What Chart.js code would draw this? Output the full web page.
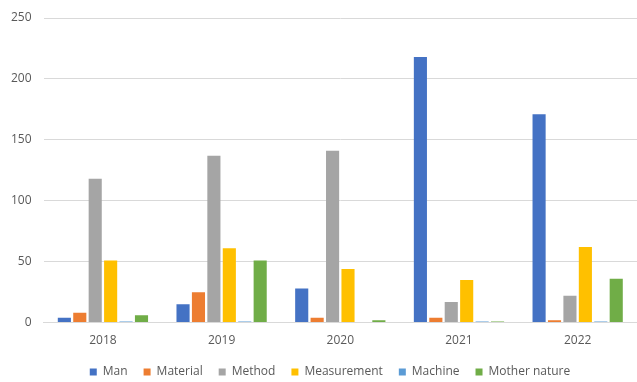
<!DOCTYPE html>
<html>
<head>
<meta charset="utf-8">
<script src="https://cdn.jsdelivr.net/npm/chart.js@4"></script>
<style>
  html, body { margin: 0; padding: 0; background: #fff; }
  #wrap { width: 637px; height: 382px; position: relative; }
</style>
</head>
<body>
<div id="wrap"><canvas id="causeChart"></canvas></div>
<script>
var years = ["2018", "2019", "2020", "2021", "2022"];
var man = [4, 15, 28, 218, 171];
var material = [8, 25, 4, 4, 2];
var method = [118, 137, 141, 17, 22];
var measurement = [51, 61, 44, 35, 62];
var machine = [1, 1, 0, 1, 1];
var motherNature = [6, 51, 2, 1, 36];

var yTicks = [0, 50, 100, 150, 200, 250];

function makeSet(label, data, color) {
    return {
        label: label,
        data: data,
        backgroundColor: color,
        borderWidth: 0,
        barPercentage: 0.85,
        categoryPercentage: 0.78
    };
}

var data = {
    labels: years,
    datasets: [
        makeSet("Man", man, "#4472C4"),
        makeSet("Material", material, "#ED7D31"),
        makeSet("Method", method, "#A5A5A5"),
        makeSet("Measurement", measurement, "#FFC000"),
        makeSet("Machine", machine, "#5B9BD5"),
        makeSet("Mother nature", motherNature, "#70AD47")
    ]
};

Chart.defaults.font.family = "'Open Sans', 'Liberation Sans', sans-serif";
Chart.defaults.font.size = 12;
Chart.defaults.color = "#595959";

// legend sits a bit right of the canvas centre in the original
var legendShift = {
    id: 'legendShift',
    afterLayout: function(chart) {
        chart.legend.left += 12;
        chart.legend.right += 12;
    }
};

var config = {
    type: 'bar',
    data: data,
    plugins: [legendShift],
    options: {
        responsive: true,
        maintainAspectRatio: false,
        animation: false,
        layout: {
            padding: { left: -1, right: 0, top: 2, bottom: -6 }
        },
        plugins: {
            legend: {
                position: 'bottom',
                labels: {
                    boxWidth: 7,
                    boxHeight: 7,
                    padding: 16,
                    color: "#595959"
                }
            },
            tooltip: { enabled: false }
        },
        scales: {
            x: {
                grid: { display: false, drawTicks: false },
                border: { color: "#d9d9d9" },
                ticks: { padding: 11 },
                // pull the legend up closer to the year labels
                afterFit: function(axis) { axis.height -= 9; }
            },
            y: {
                min: 0,
                max: 250,
                afterBuildTicks: function(axis) {
                    axis.ticks = yTicks.map(function(v) { return { value: v }; });
                },
                grid: { color: "#d9d9d9", drawTicks: false },
                border: { display: false },
                ticks: { padding: 12, font: { lineHeight: 1 } }
            }
        }
    }
};

new Chart(document.getElementById('causeChart'), config);
</script>
</body>
</html>
